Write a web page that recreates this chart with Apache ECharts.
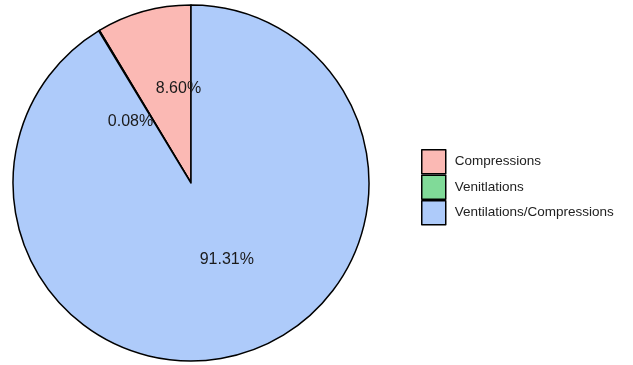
<!DOCTYPE html>
<html>
<head>
<meta charset="utf-8">
<script src="https://cdn.jsdelivr.net/npm/echarts@6/dist/echarts.min.js"></script>
<style>html,body{margin:0;padding:0;background:#fff;}#c{width:633px;height:365px;}</style>
</head>
<body>
<div id="c"></div>
<script>
var categories = ['Compressions', 'Venitlations', 'Ventilations/Compressions'];
var values = [8.60, 0.08, 91.31];
var colors = ['#FBB9B4', '#80DA98', '#AECBFA'];
var labelOffsets = [[12, -6], [-13, 17], [11, -12]];

var data = categories.map(function (name, i) {
  return {
    name: name,
    value: values[i],
    itemStyle: { color: colors[i] },
    label: { offset: labelOffsets[i] }
  };
});

var chart = echarts.init(document.getElementById('c'), null, { renderer: 'canvas' });
chart.setOption({
  animation: false,
  backgroundColor: '#fff',
  legend: {
    orient: 'vertical',
    left: 416,
    top: 144,
    itemWidth: 24,
    itemHeight: 24,
    itemGap: 0,
    icon: 'rect',
    data: categories,
    textStyle: { fontFamily: "'Liberation Sans', Arial, sans-serif", fontSize: 13.5, color: '#222', padding: [0, 0, 0, 4] },
    itemStyle: { borderColor: '#000', borderWidth: 1.5 }
  },
  series: [{
    type: 'pie',
    center: [191, 183],
    radius: [0, 178],
    startAngle: 90,
    clockwise: false,
    avoidLabelOverlap: false,
    minShowLabelAngle: 0,
    itemStyle: { borderColor: '#000', borderWidth: 1.5 },
    emphasis: { disabled: true },
    label: {
      show: true,
      position: 'inside',
      fontFamily: "'Liberation Sans', Arial, sans-serif",
      fontSize: 16,
      color: '#1a1a1a',
      formatter: function (p) { return p.value.toFixed(2) + '%'; }
    },
    labelLine: { show: false },
    data: data
  }]
});
</script>
</body>
</html>
